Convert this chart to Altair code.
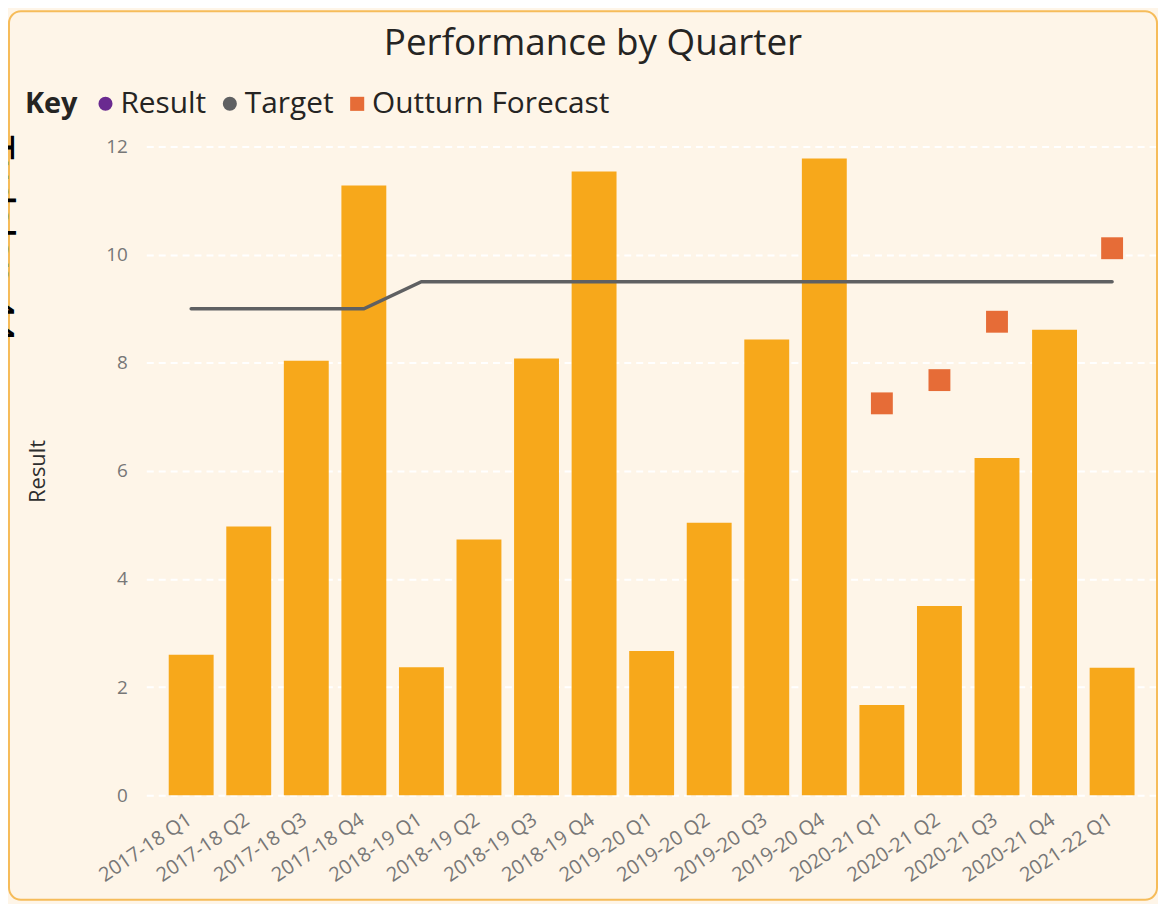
import altair as alt
import pandas as pd

# ---- data ----
quarters = [
    "2017-18 Q1", "2017-18 Q2", "2017-18 Q3", "2017-18 Q4",
    "2018-19 Q1", "2018-19 Q2", "2018-19 Q3", "2018-19 Q4",
    "2019-20 Q1", "2019-20 Q2", "2019-20 Q3", "2019-20 Q4",
    "2020-21 Q1", "2020-21 Q2", "2020-21 Q3", "2020-21 Q4",
    "2021-22 Q1",
]
results = [2.6, 4.97, 8.04, 11.28, 2.37, 4.73, 8.08, 11.54, 2.67, 5.04,
           8.43, 11.78, 1.67, 3.5, 6.24, 8.61, 2.36]
targets = [9, 9, 9, 9, 9.5, 9.5, 9.5, 9.5, 9.5, 9.5, 9.5, 9.5, 9.5, 9.5,
           9.5, 9.5, 9.5]
forecast_quarters = ["2020-21 Q1", "2020-21 Q2", "2020-21 Q3", "2021-22 Q1"]
forecast_values = [7.25, 7.68, 8.76, 10.12]

legend_series = ["Result", "Target", "Outturn Forecast"]
legend_colors = ["#6A2A90", "#5F6062", "#E66C37"]
legend_shapes = ["circle", "circle", "square"]
y_ticks = [0, 2, 4, 6, 8, 10, 12]

df = pd.DataFrame({"quarter": quarters, "result": results, "target": targets})
fc = pd.DataFrame({"quarter": forecast_quarters, "forecast": forecast_values,
                   "series": ["Outturn Forecast"] * len(forecast_values)})

W, H = 1016, 652
PAD_L, PAD_T = 139, 137
FONT = "Open Sans"
BAR = "#F7A81B"
CREAM = "#FEF5E8"

x_enc = alt.X(
    "quarter:N",
    sort=quarters,
    scale=alt.Scale(domain=quarters, paddingInner=0.22, paddingOuter=0.39),
    axis=alt.Axis(title=None, labelAngle=-34, labelFontSize=20, labelFont=FONT,
                  labelColor="#777777", domain=False, ticks=False,
                  labelPadding=14, labelOffset=-7),
)
y_axis = alt.Axis(
    title="Result", titleFontSize=22, titleFont=FONT, titleColor="#2E2E2E",
    titleFontWeight="normal", titleAngle=-90, titleX=-109, titleY=326,
    titleAlign="center", titleBaseline="middle",
    values=y_ticks, labelFontSize=19, labelFont=FONT, labelColor="#777777",
    labelPadding=19, domain=False, ticks=False,
    grid=True, gridColor="#FFFFFF", gridDash=[7, 5], gridWidth=2, gridOpacity=1,
)
y_scale = alt.Scale(domain=[0, 12], nice=False)

frame = alt.Chart(pd.DataFrame({"a": [0]})).mark_rect(
    fill="transparent", stroke="#F6BC5A", strokeWidth=2, cornerRadius=12
).encode(
    x=alt.value(1 - PAD_L), x2=alt.value(1155 - PAD_L),
    y=alt.value(1 - PAD_T), y2=alt.value(894 - PAD_T)
)

page_tag = alt.Chart(pd.DataFrame({"t": ["Tudalen 44"]})).mark_text(
    angle=90, align="left", baseline="alphabetic", fontSize=42,
    font="Liberation Sans", color="#000000"
).encode(text="t:N", x=alt.value(-23 - PAD_L), y=alt.value(125 - PAD_T))

bars = alt.Chart(df).mark_bar(color=BAR).encode(
    x=x_enc,
    y=alt.Y("result:Q", scale=y_scale, axis=y_axis),
)

line = alt.Chart(df).mark_line(color="#5F6062", strokeWidth=3.5, strokeCap="round").encode(
    x=x_enc,
    y=alt.Y("target:Q", scale=y_scale, axis=y_axis),
)

legend = alt.Legend(
    title="Key", orient="none", legendX=17 - PAD_L, legendY=-58, direction="horizontal",
    titleOrient="left", titleFontSize=29, titleFont=FONT, titleFontWeight="bold",
    titleColor="#252423", titlePadding=13,
    labelFontSize=30, labelFont=FONT, labelColor="#252423", labelLimit=400,
    labelOffset=0, symbolSize=200, columnPadding=8, symbolStrokeWidth=0,
)

points = alt.Chart(fc).mark_point(filled=True, opacity=1, size=484, strokeWidth=0).encode(
    x=x_enc,
    y=alt.Y("forecast:Q", scale=y_scale, axis=y_axis),
    color=alt.Color("series:N", scale=alt.Scale(domain=legend_series, range=legend_colors),
                    legend=legend),
    shape=alt.Shape("series:N", scale=alt.Scale(domain=legend_series, range=legend_shapes),
                    legend=legend),
)

chart = alt.layer(frame, page_tag, bars, line, points).properties(
    width=W, height=H,
    title=alt.TitleParams("Performance by Quarter", fontSize=37, font=FONT,
                          fontWeight="normal", color="#252423", anchor="middle",
                          frame="group", dx=-59, offset=-53),
    autosize=alt.AutoSizeParams(type="none"),
    padding={"left": PAD_L, "top": PAD_T, "right": 1156 - PAD_L - W, "bottom": 107},
).configure(background=CREAM).configure_view(stroke=None)

chart.save("out.html", embed_options={"renderer": "svg", "actions": False})
